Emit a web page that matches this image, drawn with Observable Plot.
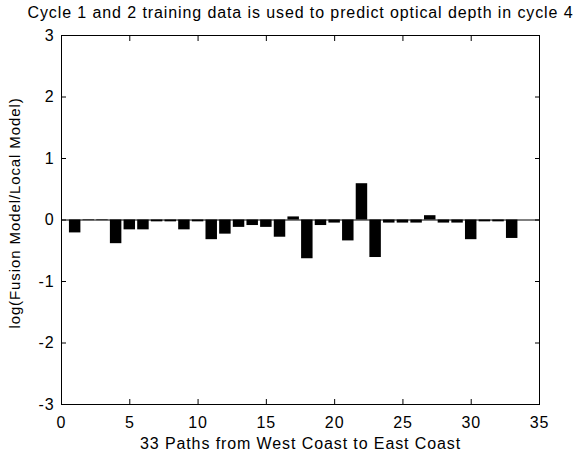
<!DOCTYPE html>
<html>
<head>
<meta charset="utf-8">
<script src="https://cdn.jsdelivr.net/npm/d3@7"></script>
<script src="https://cdn.jsdelivr.net/npm/@observablehq/plot@0.6"></script>
<style>
  html, body { margin: 0; padding: 0; background: #fff; }
  svg text { letter-spacing: 0.9px; }
</style>
</head>
<body>
<div id="chart"></div>
<script>
const paths = d3.range(1, 34);
const values = [-0.21, -0.01, -0.01, -0.385, -0.16, -0.16, -0.03, -0.03, -0.16, -0.03,
                -0.32, -0.23, -0.12, -0.09, -0.12, -0.28, 0.05, -0.63, -0.09, -0.05,
                -0.34, 0.59, -0.61, -0.05, -0.05, -0.05, 0.07, -0.05, -0.05, -0.32,
                -0.03, -0.03, -0.30];
const xTicks = [0, 5, 10, 15, 20, 25, 30, 35];
const yTicks = [-3, -2, -1, 0, 1, 2, 3];
const title = "Cycle 1 and 2 training data is used to predict optical depth in cycle 4";
const xLabel = "33 Paths from West Coast to East Coast";
const yLabel = "log(Fusion Model/Local Model)";

const data = paths.map((p, i) => ({x: p, v: values[i]}));
const halfW = 0.42;
const fmt = d => String(d);

const chart = Plot.plot({
  width: 573,
  height: 456,
  marginTop: 35,
  marginLeft: 61,
  marginRight: 34,
  marginBottom: 52,
  style: {fontFamily: "'Liberation Sans', Arial, sans-serif", fontSize: "16px", color: "#000", background: "#fff"},
  x: {domain: [0, 35]},
  y: {domain: [-3, 3]},
  marks: [
    Plot.rectY(data, {x1: d => d.x - halfW, x2: d => d.x + halfW, y: "v", fill: "#000"}),
    Plot.ruleY([0], {stroke: "#000", strokeWidth: 1}),
    Plot.axisX({ticks: xTicks, tickSize: -5, tickPadding: 17, tickFormat: fmt, label: null, anchor: "bottom", fontSize: 16}),
    Plot.axisX({ticks: xTicks, tickSize: -5, tickFormat: () => "", label: null, anchor: "top"}),
    Plot.axisY({ticks: yTicks, tickSize: -5, tickPadding: 12, tickFormat: fmt, label: null, anchor: "left", fontSize: 16}),
    Plot.axisY({ticks: yTicks, tickSize: -5, tickFormat: () => "", label: null, anchor: "right"}),
    Plot.frame({stroke: "#000", strokeWidth: 1}),
    Plot.text([title], {frameAnchor: "top", textAnchor: "middle", lineAnchor: "middle", dy: -22.5, fontSize: 16, fill: "#000"}),
    Plot.text([xLabel], {frameAnchor: "bottom", textAnchor: "middle", lineAnchor: "middle", dy: 39, fontSize: 16, fill: "#000"}),
    Plot.text([yLabel], {frameAnchor: "left", textAnchor: "middle", lineAnchor: "middle", dx: -46, dy: -7, rotate: -90, fontSize: 15, fill: "#000"})
  ]
});
document.getElementById("chart").appendChild(chart);
</script>
</body>
</html>
